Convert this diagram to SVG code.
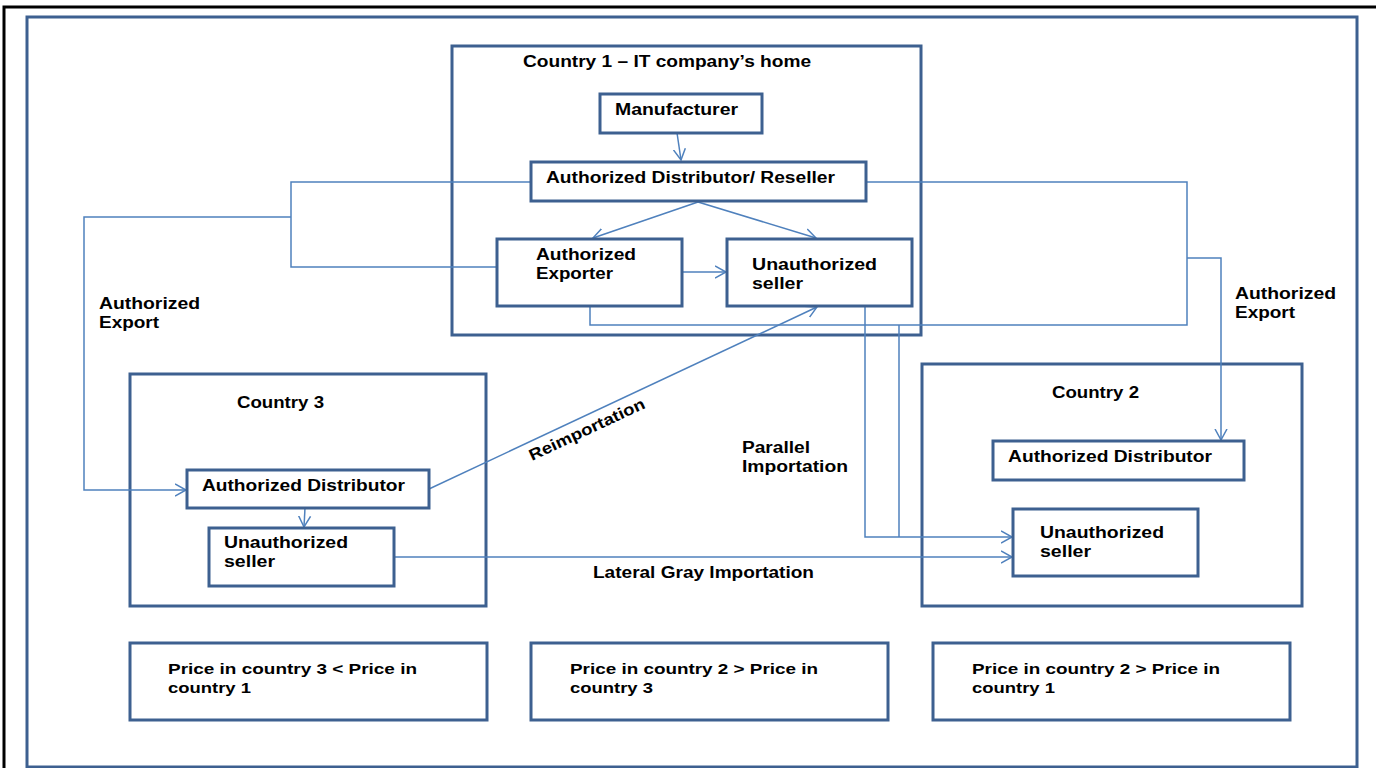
<svg xmlns="http://www.w3.org/2000/svg" width="1376" height="768" viewBox="0 0 1376 768">
<style>
.box{fill:#ffffff;stroke:#3d6090;stroke-width:3}
.frame{fill:none;stroke:#3d6090;stroke-width:3}
.c{fill:none;stroke:#4f81bd;stroke-width:1.5}
.a{marker-end:url(#arr)}
text{font-family:"Liberation Sans",Arial,sans-serif;font-weight:bold;font-size:16px;fill:#000}
.p{font-size:15px}
</style>
<defs>
<marker id="arr" markerUnits="userSpaceOnUse" markerWidth="14" markerHeight="14" refX="11" refY="6" orient="auto" viewBox="0 0 14 12">
<path d="M0,0 L11,6 L0,12" fill="none" stroke="#4f81bd" stroke-width="1.5"/>
</marker>
</defs>
<rect width="1376" height="768" fill="#ffffff"/>
<path d="M4,768 V7 H1376" fill="none" stroke="#000" stroke-width="3"/>
<rect class="frame" x="27" y="17" width="1330" height="750"/>

<g id="country1">
<rect class="frame" x="452" y="46" width="469" height="289"/>
<text x="523" y="67" textLength="288" lengthAdjust="spacingAndGlyphs">Country 1 – IT company’s home</text>
</g>
<g id="country3">
<rect class="frame" x="130" y="374" width="356" height="232"/>
<text x="237" y="408" textLength="87" lengthAdjust="spacingAndGlyphs">Country 3</text>
</g>
<g id="country2">
<rect class="frame" x="922" y="364" width="380" height="242"/>
<text x="1052" y="398" textLength="87" lengthAdjust="spacingAndGlyphs">Country 2</text>
</g>

<g id="connectors">
<path class="c a" d="M676,126 L681,160"/>
<path class="c a" d="M698,202 L593,238"/>
<path class="c a" d="M698,202 L816,238"/>
<path class="c a" d="M682,272 H726"/>
<path class="c" d="M531,182 H291 V267 H497"/>
<path class="c a" d="M291,217 H84 V490 H186"/>
<path class="c" d="M866,182 H1187 V325 H590 V306"/>
<path class="c a" d="M1187,258 H1221 V440"/>
<path class="c a" d="M429,489 L817,307"/>
<path class="c a" d="M865,306 V537 H1012"/>
<path class="c" d="M899,325 V537"/>
<path class="c a" d="M394,557 H1012"/>
<path class="c a" d="M305,508 L304,527"/>
</g>

<g id="manufacturer">
<rect class="box" x="600" y="94" width="162" height="39"/>
<text x="615" y="115" textLength="123" lengthAdjust="spacingAndGlyphs">Manufacturer</text>
</g>
<g id="ad-reseller">
<rect class="box" x="531" y="162" width="335" height="39"/>
<text x="546" y="183" textLength="289" lengthAdjust="spacingAndGlyphs">Authorized Distributor/ Reseller</text>
</g>
<g id="exporter">
<rect class="box" x="497" y="239" width="185" height="67"/>
<text x="536" y="260" textLength="100" lengthAdjust="spacingAndGlyphs">Authorized</text>
<text x="536" y="279" textLength="77" lengthAdjust="spacingAndGlyphs">Exporter</text>
</g>
<g id="unauth-c1">
<rect class="box" x="727" y="239" width="185" height="67"/>
<text x="752" y="270" textLength="125" lengthAdjust="spacingAndGlyphs">Unauthorized</text>
<text x="752" y="289" textLength="51" lengthAdjust="spacingAndGlyphs">seller</text>
</g>
<g id="ad-c3">
<rect class="box" x="187" y="470" width="242" height="38"/>
<text x="202" y="491" textLength="203" lengthAdjust="spacingAndGlyphs">Authorized Distributor</text>
</g>
<g id="unauth-c3">
<rect class="box" x="209" y="528" width="185" height="58"/>
<text x="224" y="548" textLength="124" lengthAdjust="spacingAndGlyphs">Unauthorized</text>
<text x="224" y="567" textLength="51" lengthAdjust="spacingAndGlyphs">seller</text>
</g>
<g id="ad-c2">
<rect class="box" x="993" y="441" width="251" height="39"/>
<text x="1008" y="462" textLength="204" lengthAdjust="spacingAndGlyphs">Authorized Distributor</text>
</g>
<g id="unauth-c2">
<rect class="box" x="1013" y="509" width="185" height="67"/>
<text x="1040" y="538" textLength="124" lengthAdjust="spacingAndGlyphs">Unauthorized</text>
<text x="1040" y="557" textLength="51" lengthAdjust="spacingAndGlyphs">seller</text>
</g>

<g id="labels">
<text x="99" y="309" textLength="101" lengthAdjust="spacingAndGlyphs">Authorized</text>
<text x="99" y="328" textLength="60" lengthAdjust="spacingAndGlyphs">Export</text>
<text x="1235" y="299" textLength="101" lengthAdjust="spacingAndGlyphs">Authorized</text>
<text x="1235" y="318" textLength="60" lengthAdjust="spacingAndGlyphs">Export</text>
<text x="532" y="461" transform="rotate(-25 532 461)" textLength="126" lengthAdjust="spacingAndGlyphs">Reimportation</text>
<text x="742" y="453" textLength="68" lengthAdjust="spacingAndGlyphs">Parallel</text>
<text x="742" y="472" textLength="106" lengthAdjust="spacingAndGlyphs">Importation</text>
<text x="593" y="578" textLength="221" lengthAdjust="spacingAndGlyphs">Lateral Gray Importation</text>
</g>

<g id="price1">
<rect class="box" x="130" y="643" width="357" height="77"/>
<text class="p" x="168" y="674" textLength="249" lengthAdjust="spacingAndGlyphs">Price in country 3 &lt; Price in</text>
<text class="p" x="168" y="693" textLength="83" lengthAdjust="spacingAndGlyphs">country 1</text>
</g>
<g id="price2">
<rect class="box" x="531" y="643" width="357" height="77"/>
<text class="p" x="570" y="674" textLength="248" lengthAdjust="spacingAndGlyphs">Price in country 2 &gt; Price in</text>
<text class="p" x="570" y="693" textLength="83" lengthAdjust="spacingAndGlyphs">country 3</text>
</g>
<g id="price3">
<rect class="box" x="933" y="643" width="357" height="77"/>
<text class="p" x="972" y="674" textLength="248" lengthAdjust="spacingAndGlyphs">Price in country 2 &gt; Price in</text>
<text class="p" x="972" y="693" textLength="83" lengthAdjust="spacingAndGlyphs">country 1</text>
</g>
</svg>
